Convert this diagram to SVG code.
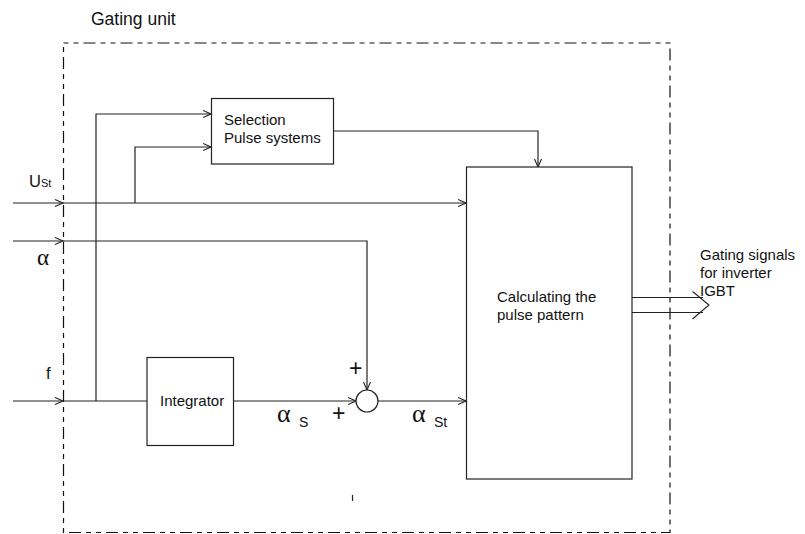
<svg xmlns="http://www.w3.org/2000/svg" width="805" height="534" viewBox="0 0 805 534">
  <style>
    .box { fill: #fff; stroke: #222; stroke-width: 1.2; }
    .wire { fill: none; stroke: #222; stroke-width: 1.2; }
    .head { fill: none; stroke: #222; stroke-width: 1.1; }
    .frame { fill: none; stroke: #111; stroke-width: 1.2; stroke-dasharray: 5 5 5 5 12 5; }
    .t { font-family: "Liberation Sans", Arial, sans-serif; font-size: 15px; fill: #111; }
    .greek { font-family: "Liberation Serif", "Times New Roman", serif; fill: #111; }
    .plus { font-family: "Liberation Sans", Arial, sans-serif; font-size: 23px; fill: #111; }
  </style>
  <defs>
    <marker id="arr" markerWidth="9" markerHeight="8" refX="8" refY="4" orient="auto" markerUnits="userSpaceOnUse">
      <path d="M0,0.5 L8,4 L0,7.5" fill="none" stroke="#222" stroke-width="1.1"/>
    </marker>
  </defs>

  <!-- Gating unit frame -->
  <g id="gating-unit">
    <text class="t" x="91" y="25" style="font-size:17.5px">Gating unit</text>
    <rect class="frame" x="63.5" y="43" width="606.5" height="489.5"/>
  </g>

  <!-- Connectors -->
  <g id="connectors">
    <!-- U_St input line to calculating block -->
    <line class="wire" x1="13" y1="203" x2="466" y2="203" marker-end="url(#arr)"/>
    <!-- alpha input line down to summing point -->
    <polyline class="wire" points="13,241 367,241 367,390" marker-end="url(#arr)"/>
    <!-- f input line to integrator -->
    <line class="wire" x1="13" y1="401" x2="147" y2="401"/>
    <!-- f branch to selection block -->
    <polyline class="wire" points="96,401 96,114 211,114" marker-end="url(#arr)"/>
    <!-- U_St branch to selection block -->
    <polyline class="wire" points="135,203 135,147 211,147" marker-end="url(#arr)"/>
    <!-- selection output to calculating block -->
    <polyline class="wire" points="333,131 538,131 538,167" marker-end="url(#arr)"/>
    <!-- integrator output to summing point -->
    <line class="wire" x1="233" y1="401" x2="356" y2="401" marker-end="url(#arr)"/>
    <!-- summing point output to calculating block -->
    <line class="wire" x1="378" y1="401" x2="466" y2="401" marker-end="url(#arr)"/>
    <!-- boundary arrowheads on the inputs -->
    <path class="head" d="M55,199.5 L63,203 L55,206.5"/>
    <path class="head" d="M55,237.5 L63,241 L55,244.5"/>
    <path class="head" d="M55,397.5 L63,401 L55,404.5"/>
    <!-- double-line output arrow -->
    <line class="wire" x1="632" y1="297.5" x2="703" y2="297.5"/>
    <line class="wire" x1="632" y1="312.5" x2="703" y2="312.5"/>
    <path class="head" d="M692.5,291.5 L709,305 L692.5,319"/>
    <!-- small tick -->
    <line x1="352.5" y1="495" x2="352.5" y2="501" stroke="#222" stroke-width="1.2"/>
  </g>

  <!-- Input labels -->
  <g id="label-ust">
    <text class="t" x="29" y="187" style="font-size:16.5px">U<tspan style="font-size:11px">St</tspan></text>
  </g>
  <g id="label-alpha">
    <text class="greek" x="37" y="265" style="font-size:23px">α</text>
  </g>
  <g id="label-f">
    <text class="t" x="46" y="379" style="font-size:16.5px">f</text>
  </g>

  <!-- Selection pulse systems -->
  <g id="selection">
    <rect class="box" x="211.5" y="98.5" width="122" height="65.5"/>
    <text class="t" x="224" y="125">Selection</text>
    <text class="t" x="224" y="143">Pulse systems</text>
  </g>

  <!-- Integrator -->
  <g id="integrator">
    <rect class="box" x="147" y="357.5" width="86.5" height="88"/>
    <text class="t" x="160" y="406">Integrator</text>
  </g>

  <!-- Summing point -->
  <g id="summing-point">
    <circle cx="367" cy="401" r="11" fill="#fff" stroke="#222" stroke-width="1.2"/>
    <text class="plus" x="349" y="376">+</text>
    <text class="plus" x="332" y="421">+</text>
  </g>

  <!-- Signal labels -->
  <g id="label-alpha-s">
    <text class="greek" x="277" y="422" style="font-size:26px">α</text>
    <text class="t" x="299" y="427" style="font-size:14px">S</text>
  </g>
  <g id="label-alpha-st">
    <text class="greek" x="412" y="422" style="font-size:26px">α</text>
    <text class="t" x="434" y="427" style="font-size:14px">St</text>
  </g>

  <!-- Calculating the pulse pattern -->
  <g id="calculating">
    <rect class="box" x="466.5" y="167" width="165.5" height="312"/>
    <text class="t" x="497" y="302">Calculating the</text>
    <text class="t" x="497" y="320">pulse pattern</text>
  </g>

  <!-- Output label -->
  <g id="label-output">
    <text class="t" x="700" y="260">Gating signals</text>
    <text class="t" x="700" y="278">for inverter</text>
    <text class="t" x="700" y="296">IGBT</text>
  </g>
</svg>
